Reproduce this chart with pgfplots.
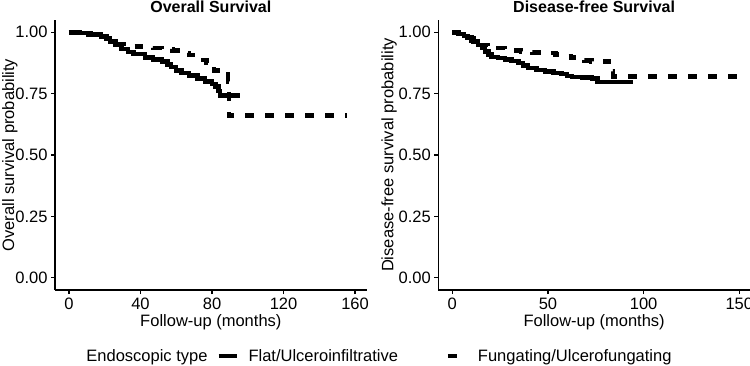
\documentclass[border=0pt]{standalone}
\usepackage{fontspec}
\setmainfont{Liberation Sans}
\usepackage{pgfplots}
\usepackage{pgfplotstable}
\pgfplotsset{compat=1.18}

% Kaplan-Meier estimates: time (months), survival probability
\pgfplotstableread{
t s
0 1.000
6 0.997
11 0.990
18 0.982
21 0.972
23 0.962
26 0.948
29.5 0.931
33 0.920
36 0.912
42.5 0.898
47 0.890
52 0.881
55 0.868
57 0.858
60 0.845
63 0.835
67 0.823
72 0.812
76 0.800
80 0.790
82 0.780
83.5 0.760
84.5 0.743
95.7 0.743
}\osflat
\pgfplotstableread{
t s
0 1.000
6 0.996
12 0.990
18 0.983
21 0.975
24 0.963
28 0.952
32 0.942
40 0.939
47 0.935
52 0.931
58 0.925
63 0.916
67 0.908
71 0.898
74 0.888
77 0.875
79 0.862
81 0.845
83 0.831
84.5 0.827
89 0.800
89.5 0.660
155.3 0.660
}\osfung
\pgfplotstableread{
t s
0 1.000
3 0.993
6 0.985
8 0.976
11 0.962
13.5 0.948
15.5 0.935
17 0.921
19 0.910
20.5 0.900
24 0.895
27.5 0.889
31 0.882
34.5 0.874
37 0.864
39.5 0.854
44 0.846
48.5 0.840
53 0.834
57 0.829
60 0.822
62.5 0.817
68 0.815
73 0.812
76 0.797
94.6 0.797
}\dfsflat
\pgfplotstableread{
t s
0 1.000
5 0.995
8 0.980
10 0.966
13 0.956
15 0.948
18.7 0.939
23 0.935
27.5 0.931
32 0.926
36 0.921
42 0.918
48 0.915
54 0.909
59 0.904
62 0.897
65.7 0.890
69 0.885
72.7 0.881
82 0.860
83 0.840
84 0.820
153.9 0.820
}\dfsfung

\newcommand\txt{\fontsize{16.5}{19}\selectfont}

\pgfplotsset{
  km/.style={
    scale only axis, width=311.7pt, height=270pt,
    axis x line*=bottom, axis y line*=left,
    axis line style={line width=1.2pt, -},
    tick style={line width=1.2pt, black},
    major tick length=4pt, tick align=outside,
    ymin=-0.05, ymax=1.05,
    ytick={0,0.25,0.5,0.75,1},
    yticklabels={0.00,0.25,0.50,0.75,1.00},
    ticklabel style={font=\txt},
    label style={font=\txt},
    /pgf/number format/assume math mode=true,
    xlabel={Follow-up (months)},
    xlabel style={at={(axis description cs:0.5,0)}, anchor=base, yshift=-36.7pt},
    every axis title shift=0pt,
    title style={at={(axis description cs:0.5,1)}, anchor=base, yshift=7.5pt,
      inner sep=0pt, font=\fontsize{16}{19}\selectfont\bfseries},
    legend image code/.code={\draw[##1] (0pt,0pt) -- (18pt,0pt);},
  },
  flat/.style={const plot, black, line width=4.5pt, no marks, forget plot},
  fung/.style={const plot, black, line width=4.5pt, dash pattern=on 9pt off 11pt, no marks, forget plot},
}

\begin{document}
\begin{tikzpicture}[x=1pt,y=1pt]
\useasboundingbox (0,0) rectangle (750,365);

\begin{axis}[km, at={(55pt,75pt)}, anchor=south west,
  title={Overall Survival},
  xmin=-7.8, xmax=166.5, xtick={0,40,80,120,160},
  ylabel={Overall survival probability},
  ylabel style={at={(axis description cs:-0.145,0.5)}, anchor=center},
  legend columns=3,
  legend style={at={(axis description cs:1.0266,-0.2444)}, anchor=center,
    draw=none, fill=none, font=\txt,
    /tikz/every odd column/.style={column sep=8pt},
    /tikz/column 1/.style={column sep=0pt},
    /tikz/column 2/.style={column sep=7pt},
    /tikz/column 4/.style={column sep=46pt}},
]
\addlegendimage{empty legend}\addlegendentry{Endoscopic type}
\addlegendimage{black, line width=4pt}\addlegendentry{Flat/Ulceroinfiltrative}
\addlegendimage{black, line width=4pt, dash pattern=on 9pt off 11pt}\addlegendentry{Fungating/Ulcerofungating}
\addplot[fung] table[x=t, y=s] {\osfung};
\addplot[flat] table[x=t, y=s] {\osflat};
\end{axis}

\begin{axis}[km, at={(438.3pt,75pt)}, anchor=south west,
  title={Disease-free Survival},
  xmin=-7.3, xmax=155.6, xtick={0,50,100,150},
  ylabel={Disease-free survival probability},
  ylabel style={at={(axis description cs:-0.158,0.5)}, anchor=center},
]
\addplot[fung] table[x=t, y=s] {\dfsfung};
\addplot[flat] table[x=t, y=s] {\dfsflat};
\end{axis}
\end{tikzpicture}
\end{document}
